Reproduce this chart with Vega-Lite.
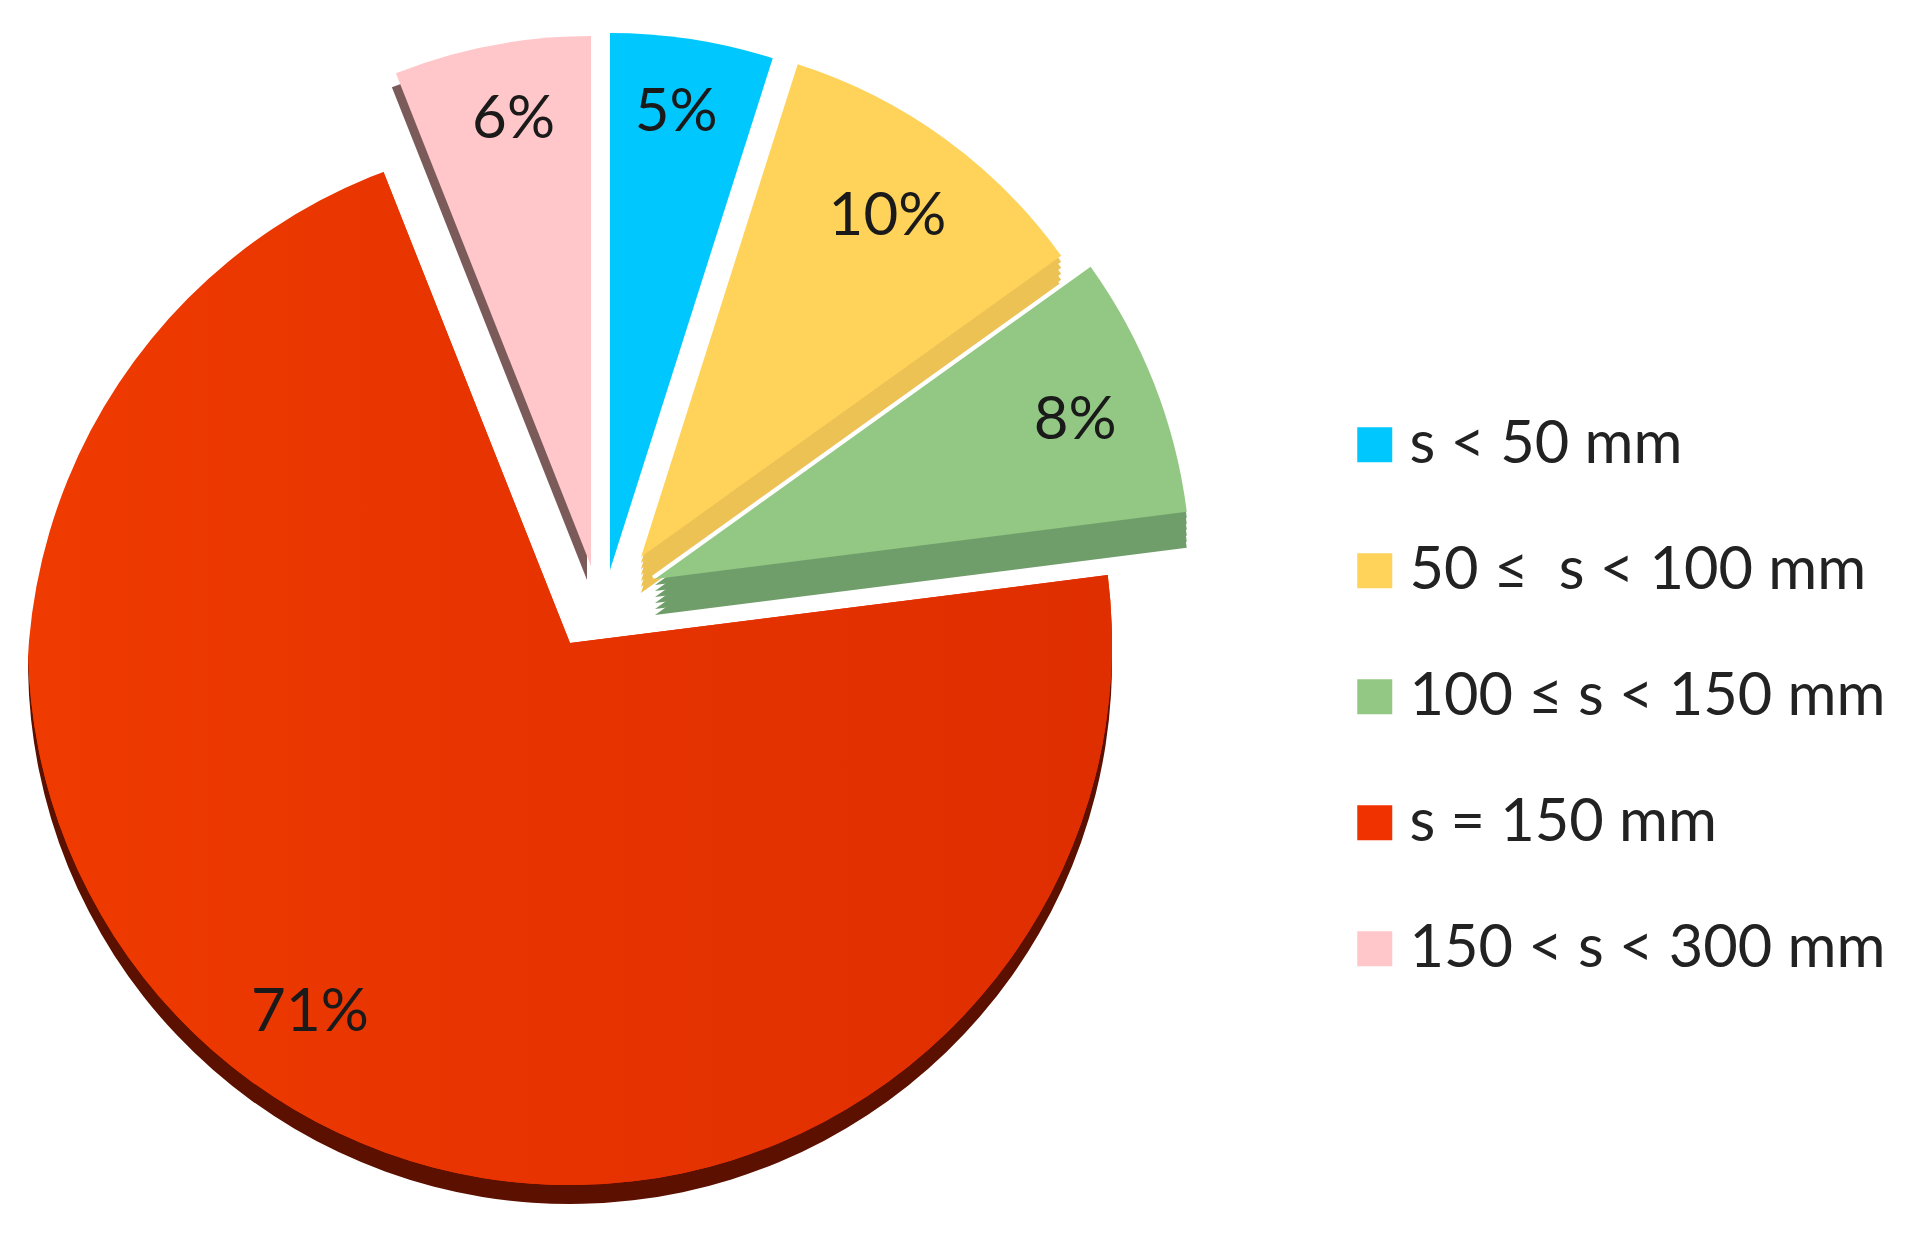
{
"$schema":"https://vega.github.io/schema/vega-lite/v6.json",
"width":1910,"height":1234,"autosize":{"type":"none"},"padding":0,
"background":"white",
"config":{"view":{"stroke":null}},
"data":{"values":[
{"spacing":"s < 50 mm","share":4.9,"label":"5%"},
{"spacing":"50 ≤\u00a0 s < 100 mm","share":10.2,"label":"10%"},
{"spacing":"100 ≤ s < 150 mm","share":7.9,"label":"8%"},
{"spacing":"s = 150 mm","share":71.0,"label":"71%"},
{"spacing":"150 < s < 300 mm","share":6.0,"label":"6%"}
]},
"transform":[{"stack":"share","groupby":[],"as":["a0","a1"]},{"calculate":"(datum.a0+datum.a1)/2","as":"mid"}],
"encoding":{
"theta":{"field":"a0","type":"quantitative","stack":null,"scale":{"domain":[0,100]}},
"theta2":{"field":"a1"}
},
"layer":[
{"transform":[{"filter":"datum.label==='71%'"}],"layer":[
{"mark":{"type":"arc","outerRadius":542,"xOffset":-385,"yOffset":45,"fill":"#5C1000"}},
{"mark":{"type":"arc","outerRadius":542,"xOffset":-385,"yOffset":26},
 "encoding":{"color":{"field":"spacing","type":"nominal","scale":{"domain":["s < 50 mm","50 ≤\u00a0 s < 100 mm","100 ≤ s < 150 mm","s = 150 mm","150 < s < 300 mm"],"range":["#00C8FF","#FFD25A","#92C883","#F03200","#FFC7C9"]},
  "legend":{"orient":"none","legendX":1345,"legendY":415,"title":null,"symbolType":"square","symbolSize":1225,"symbolStrokeWidth":0,"symbolOpacity":1,"labelFont":"Lato","labelFontSize":59.5,"labelColor":"#222222","labelOffset":5,"rowPadding":65,"labelLimit":600}}}},
{"mark":{"type":"arc","outerRadius":542,"xOffset":-385,"yOffset":26,"fill":{"gradient":"linear","x1":0,"x2":1,"y1":0,"y2":0,"stops":[{"offset":0,"color":"#EF3B00"},{"offset":0.5,"color":"#E63300"},{"offset":1,"color":"#DF2E00"}]}}},
{"mark":{"type":"arc","innerRadius":552,"outerRadius":640,"xOffset":-376,"yOffset":71,"fill":"white"},"encoding":{"theta":{"datum":71.6,"type":"quantitative","stack":null,"scale":{"domain":[0,100]}},"theta2":{"datum":97}}},
{"mark":{"type":"text","radius":450,"xOffset":-416,"yOffset":9,"font":"Lato","fontSize":60,"color":"#1A1A1A","align":"center","baseline":"middle"},"encoding":{"theta":{"field":"mid","type":"quantitative","stack":null,"scale":{"domain":[0,100]}},"text":{"field":"label"}}}
]},
{"transform":[{"filter":"datum.label==='6%'"}],"layer":[
{"mark":{"type":"arc","outerRadius":530,"xOffset":-368,"yOffset":-37,"fill":"#7B5A5A"}},
{"mark":{"type":"arc","outerRadius":530,"xOffset":-364,"yOffset":-51,"fill":"#FFC7C9"}},
{"mark":{"type":"text","radius":456,"xOffset":-356,"yOffset":-49,"font":"Lato","fontSize":60,"color":"#1A1A1A","align":"center","baseline":"middle"},"encoding":{"theta":{"field":"mid","type":"quantitative","stack":null,"scale":{"domain":[0,100]}},"text":{"field":"label"}}}
]},
{"transform":[{"filter":"datum.label==='5%'"}],"layer":[
{"mark":{"type":"arc","outerRadius":537,"xOffset":-345,"yOffset":-47,"fill":"#00C8FF"}},
{"mark":{"type":"text","radius":464,"xOffset":-350,"yOffset":-45,"font":"Lato","fontSize":60,"color":"#1A1A1A","align":"center","baseline":"middle"},"encoding":{"theta":{"field":"mid","type":"quantitative","stack":null,"scale":{"domain":[0,100]}},"text":{"field":"label"}}}
]},
{"transform":[{"filter":"datum.label==='10%'"}],"layer":[
{"mark":{"type":"arc","outerRadius":517,"xOffset":-314,"yOffset":-24,"fill":"#EDC255"}},
{"mark":{"type":"arc","outerRadius":517,"xOffset":-314,"yOffset":-30,"fill":"#EDC255"}},
{"mark":{"type":"arc","outerRadius":517,"xOffset":-314,"yOffset":-36,"fill":"#EDC255"}},
{"mark":{"type":"arc","outerRadius":517,"xOffset":-314,"yOffset":-42,"fill":"#EDC255"}},
{"mark":{"type":"arc","outerRadius":517,"xOffset":-314,"yOffset":-48,"fill":"#EDC255"}},
{"mark":{"type":"arc","outerRadius":517,"xOffset":-314,"yOffset":-54,"fill":"#EDC255"}},
{"mark":{"type":"arc","outerRadius":517,"xOffset":-314,"yOffset":-60,"fill":"#FFD25A"}},
{"mark":{"type":"text","radius":421,"xOffset":-315,"yOffset":-59,"font":"Lato","fontSize":60,"color":"#1A1A1A","align":"center","baseline":"middle"},"encoding":{"theta":{"field":"mid","type":"quantitative","stack":null,"scale":{"domain":[0,100]}},"text":{"field":"label"}}}
]},
{"transform":[{"filter":"datum.label==='8%'"}],"layer":[
{"mark":{"type":"arc","outerRadius":537,"xOffset":-302,"yOffset":-40,"fill":"white","stroke":"white","strokeWidth":3}},
{"mark":{"type":"arc","outerRadius":536,"xOffset":-300,"yOffset":-2,"fill":"#709E6A"}},
{"mark":{"type":"arc","outerRadius":536,"xOffset":-300,"yOffset":-8,"fill":"#709E6A"}},
{"mark":{"type":"arc","outerRadius":536,"xOffset":-300,"yOffset":-14,"fill":"#709E6A"}},
{"mark":{"type":"arc","outerRadius":536,"xOffset":-300,"yOffset":-20,"fill":"#709E6A"}},
{"mark":{"type":"arc","outerRadius":536,"xOffset":-300,"yOffset":-26,"fill":"#709E6A"}},
{"mark":{"type":"arc","outerRadius":536,"xOffset":-300,"yOffset":-32,"fill":"#709E6A"}},
{"mark":{"type":"arc","outerRadius":536,"xOffset":-300,"yOffset":-38,"fill":"#92C883"}},
{"mark":{"type":"text","radius":447,"xOffset":-296,"yOffset":-33,"font":"Lato","fontSize":60,"color":"#1A1A1A","align":"center","baseline":"middle"},"encoding":{"theta":{"field":"mid","type":"quantitative","stack":null,"scale":{"domain":[0,100]}},"text":{"field":"label"}}}
]}
]
}
